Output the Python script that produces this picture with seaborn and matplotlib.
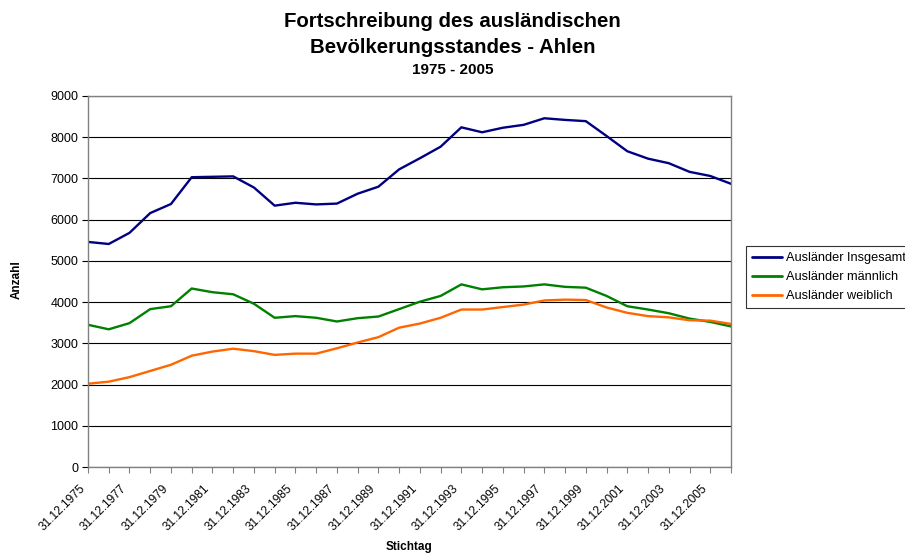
#!/usr/bin/env python3

import matplotlib
matplotlib.use("Agg")
import matplotlib.pyplot as plt
import matplotlib.transforms as mtrans
import pandas as pd
import seaborn as sns

years = list(range(1975, 2007))

insgesamt = [
    5460, 5410, 5680, 6160, 6380, 7030, 7040, 7050, 6780, 6340, 6410, 6370,
    6390, 6630, 6800, 7220, 7490, 7770, 8240, 8120, 8230, 8300, 8460, 8420,
    8390, 8030, 7660, 7480, 7370, 7160, 7060, 6870,
]
maennlich = [
    3450, 3340, 3490, 3830, 3900, 4330, 4240, 4190, 3960, 3620, 3660, 3620,
    3530, 3610, 3650, 3830, 4010, 4150, 4430, 4310, 4360, 4380, 4430, 4370,
    4350, 4150, 3900, 3820, 3730, 3600, 3520, 3410,
]
weiblich = [
    2020, 2070, 2180, 2330, 2480, 2700, 2800, 2870, 2810, 2720, 2750, 2750,
    2880, 3020, 3150, 3380, 3480, 3620, 3820, 3820, 3880, 3940, 4040, 4060,
    4050, 3870, 3740, 3660, 3630, 3560, 3550, 3470,
]

series_names = ["Ausländer Insgesamt", "Ausländer männlich", "Ausländer weiblich"]
colors = ["#000080", "#008000", "#FF6600"]

df = pd.concat(
    [
        pd.DataFrame({"Jahr": years, "Anzahl": vals, "Reihe": name})
        for name, vals in zip(series_names, [insgesamt, maennlich, weiblich])
    ],
    ignore_index=True,
)

sns.set_style("white")
plt.rcParams["font.family"] = ["Liberation Sans", "DejaVu Sans"]
plt.rcParams["text.color"] = "black"
plt.rcParams["axes.labelcolor"] = "black"
plt.rcParams["xtick.color"] = "black"
plt.rcParams["ytick.color"] = "black"

fig = plt.figure(figsize=(9.05, 5.56), dpi=100)
ax = fig.add_axes([88 / 905, 1 - 467 / 556, 643 / 905, 371 / 556])

sns.lineplot(
    data=df, x="Jahr", y="Anzahl", hue="Reihe", hue_order=series_names,
    palette=colors, linewidth=1.7, ax=ax,
)

ax.set_xlim(1975, 2006)
ax.set_ylim(0, 9000)
ax.set_yticks(range(0, 9001, 1000))
ax.yaxis.grid(True, color="black", linewidth=0.8)
ax.set_axisbelow(True)

ax.tick_params(axis="x", length=4, width=0.8, color="#808080", pad=3)
ax.tick_params(axis="y", length=4, width=0.8, color="black", labelsize=9, pad=3)
ax.tick_params(bottom=True, left=True)

ax.set_xticks(years)
ax.set_xticklabels(
    [f"31.12.{y}" if (y - 1975) % 2 == 0 else "" for y in years],
    rotation=45, ha="right", rotation_mode="anchor", fontsize=8.6,
)
# Excel puts the rotated labels a bit left of and below each tick
shift = mtrans.ScaledTranslation(-0.09, -0.06, fig.dpi_scale_trans)
for lbl in ax.get_xticklabels():
    lbl.set_transform(lbl.get_transform() + shift)

for side in ["left", "bottom", "right", "top"]:
    ax.spines[side].set_visible(True)
    ax.spines[side].set_color("#808080")
    ax.spines[side].set_linewidth(1.0)

ax.set_xlabel("Stichtag", fontsize=8.5, fontweight="bold")
ax.xaxis.set_label_coords(0.499, -0.199)
ax.set_ylabel("Anzahl", fontsize=8.5, fontweight="bold")
ax.yaxis.set_label_coords(-0.101, 0.504)

fig.text(0.5, 0.952, "Fortschreibung des ausländischen", ha="center",
         va="baseline", fontsize=14.7, fontweight="bold")
fig.text(0.5, 0.905, "Bevölkerungsstandes - Ahlen", ha="center",
         va="baseline", fontsize=14.7, fontweight="bold")
fig.text(0.5, 0.867, "1975 - 2005", ha="center", va="baseline",
         fontsize=11, fontweight="bold")

leg = ax.legend(
    loc="upper left", bbox_to_anchor=(1.023, 0.595), fontsize=9.2,
    frameon=True, fancybox=False, shadow=False, handlelength=2.4,
    borderpad=0.45, labelspacing=0.55, handletextpad=0.3, borderaxespad=0,
)
leg.get_frame().set_edgecolor("black")
leg.get_frame().set_linewidth(0.8)
for line in leg.get_lines():
    line.set_linewidth(2.0)

fig.savefig("out.png", dpi=100)
